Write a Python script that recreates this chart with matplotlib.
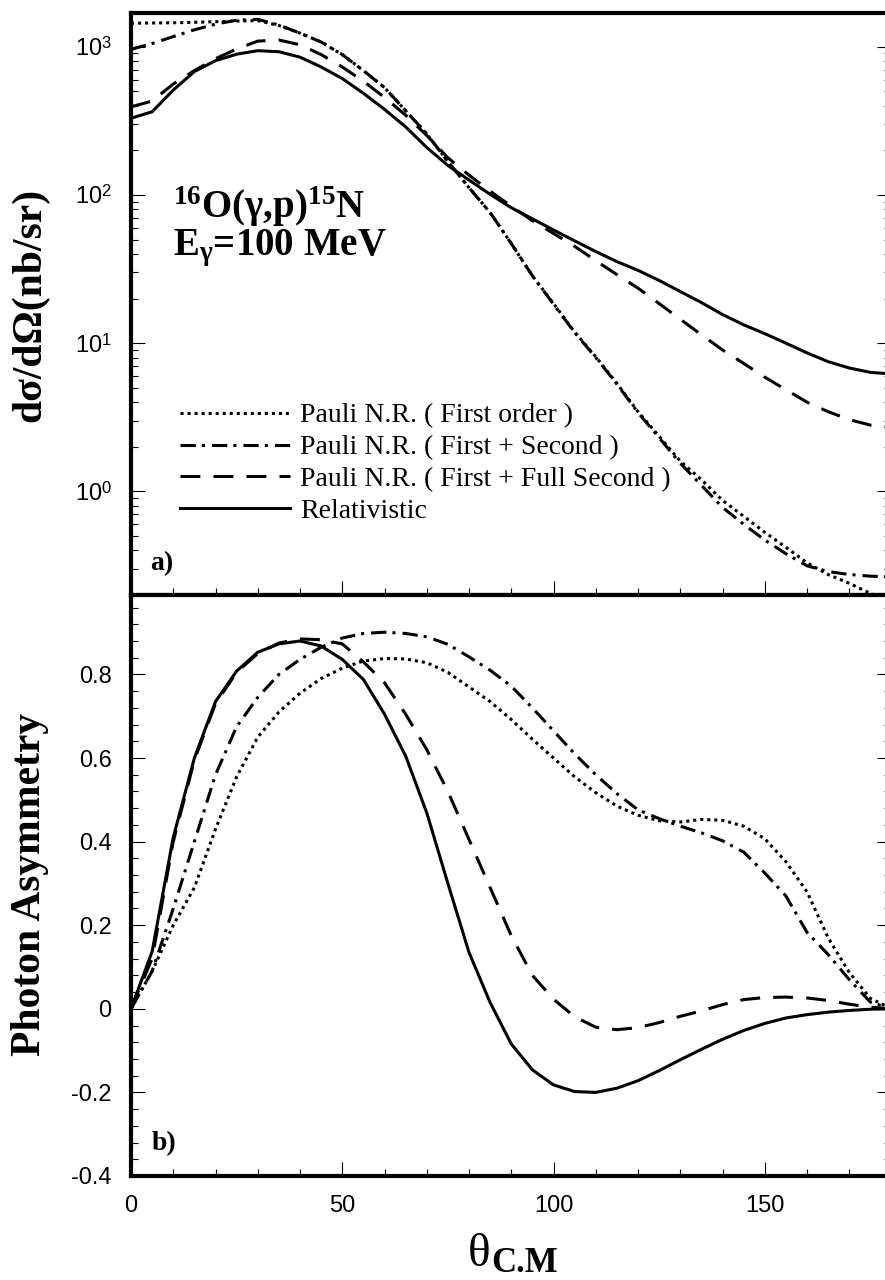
import matplotlib
matplotlib.use("Agg")
import matplotlib.pyplot as plt
from matplotlib.ticker import FixedLocator, FixedFormatter, MultipleLocator, LogLocator, NullFormatter

plt.rcParams['font.family'] = ['Liberation Sans', 'DejaVu Sans']
plt.rcParams['mathtext.fontset'] = 'custom'
plt.rcParams['mathtext.rm'] = 'Liberation Sans'
plt.rcParams['mathtext.bf'] = 'Liberation Serif:bold'
plt.rcParams['mathtext.it'] = 'Liberation Serif:italic'
plt.rcParams['axes.unicode_minus'] = False

# ---------------- data ----------------
theta = [0, 5, 10, 15, 20, 25, 30, 35, 40, 45, 50, 55, 60, 65, 70, 75, 80, 85, 90,
         95, 100, 105, 110, 115, 120, 125, 130, 135, 140, 145, 150, 155, 160, 165,
         170, 175, 180]

# cross sections (nb/sr)
xs_first = [1440, 1445, 1450, 1460, 1475, 1490, 1500, 1390, 1235, 1075, 885, 690, 530,
            370, 258, 168, 112, 76, 47, 28.5, 18.5, 11.9, 8.1, 5.35, 3.45, 2.35, 1.6,
            1.2, 0.87, 0.68, 0.53, 0.42, 0.33, 0.275, 0.24, 0.205, 0.18]
xs_second = [960, 1050, 1170, 1300, 1420, 1510, 1530, 1400, 1235, 1075, 885, 690, 530,
             370, 258, 168, 112, 76, 47, 28.5, 18.3, 11.8, 8.0, 5.3, 3.4, 2.3, 1.55,
             1.1, 0.78, 0.6, 0.47, 0.38, 0.315, 0.288, 0.275, 0.268, 0.265]
xs_full = [393, 430, 560, 690, 830, 965, 1090, 1110, 1030, 885, 730, 585, 455, 345,
           252, 178, 136, 106, 84, 67, 55, 45, 36, 29, 23.5, 18.5, 14.5, 11.4, 9.0,
           7.3, 5.9, 4.85, 4.0, 3.45, 3.05, 2.8, 2.7]
xs_rel = [329, 364, 510, 680, 805, 890, 940, 925, 850, 730, 610, 485, 378, 288, 209,
          158, 126, 101, 82, 69, 58, 49, 41.5, 35.5, 31, 26.5, 22.3, 18.8, 15.6, 13.3,
          11.6, 10.0, 8.6, 7.5, 6.8, 6.35, 6.2]

# photon asymmetry
as_first = [0, 0.09, 0.20, 0.29, 0.43, 0.555, 0.65, 0.71, 0.755, 0.79, 0.815, 0.832,
            0.838, 0.837, 0.828, 0.805, 0.77, 0.735, 0.692, 0.645, 0.60, 0.555, 0.517,
            0.485, 0.463, 0.45, 0.447, 0.453, 0.451, 0.437, 0.407, 0.352, 0.28, 0.17,
            0.087, 0.025, 0.0]
as_second = [0, 0.09, 0.24, 0.40, 0.56, 0.675, 0.745, 0.80, 0.836, 0.865, 0.887, 0.898,
             0.901, 0.898, 0.89, 0.872, 0.842, 0.81, 0.772, 0.72, 0.665, 0.61, 0.56,
             0.515, 0.476, 0.455, 0.437, 0.421, 0.402, 0.375, 0.325, 0.27, 0.183, 0.13,
             0.07, 0.016, 0.0]
as_full = [0, 0.12, 0.40, 0.595, 0.73, 0.805, 0.85, 0.875, 0.885, 0.883, 0.873, 0.83,
           0.78, 0.705, 0.62, 0.52, 0.405, 0.29, 0.175, 0.08, 0.023, -0.019, -0.044,
           -0.05, -0.045, -0.033, -0.018, -0.005, 0.01, 0.022, 0.027, 0.028, 0.026,
           0.02, 0.011, 0.004, 0.0]
as_rel = [0, 0.137, 0.41, 0.60, 0.735, 0.808, 0.853, 0.873, 0.88, 0.868, 0.836, 0.788,
          0.705, 0.605, 0.469, 0.30, 0.135, 0.015, -0.084, -0.146, -0.182, -0.198,
          -0.2, -0.19, -0.172, -0.148, -0.122, -0.097, -0.073, -0.052, -0.035, -0.022,
          -0.014, -0.008, -0.004, -0.001, 0.0]

labels = ["Pauli N.R. ( First order )",
          "Pauli N.R. ( First + Second )",
          "Pauli N.R. ( First + Full Second )",
          "Relativistic"]

xticks = [0, 50, 100, 150]
xtick_labels = ['0', '50', '100', '150']
yticks_top = [1, 10, 100, 1000]
ytick_labels_top = [r'$10^{0}$', r'$10^{1}$', r'$10^{2}$', r'$10^{3}$']
yticks_bot = [-0.4, -0.2, 0, 0.2, 0.4, 0.6, 0.8]
ytick_labels_bot = ['-0.4', '-0.2', '0', '0.2', '0.4', '0.6', '0.8']

# ---------------- figure ----------------
W, H = 885, 1280
fig = plt.figure(figsize=(W / 100, H / 100), dpi=100)

x0, x1 = 131, 891.5
ytop, ymid, ybot = 13.3, 595, 1176
ax1 = fig.add_axes([x0 / W, 1 - ymid / H, (x1 - x0) / W, (ymid - ytop) / H])
ax2 = fig.add_axes([x0 / W, 1 - ybot / H, (x1 - x0) / W, (ybot - ymid) / H])

lw = 2.2
styles = [dict(ls=(0, (1, 1.3))),
          dict(ls=(0, (5, 2, 1, 2.3))),
          dict(ls=(0, (6.5, 4.3))),
          dict(ls='-')]

top_series = [xs_first, xs_second, xs_full, xs_rel]
bot_series = [as_first, as_second, as_full, as_rel]

lines = []
for ys, st, lab in zip(top_series, styles, labels):
    ln, = ax1.plot(theta, ys, color='black', lw=lw, label=lab, **st)
    lines.append(ln)
for ys, st in zip(bot_series, styles):
    ax2.plot(theta, ys, color='black', lw=lw, **st)

ax1.set_yscale('log')
ax1.set_ylim(0.2, 1680)
ax2.set_ylim(-0.4, 0.99)
for ax in (ax1, ax2):
    ax.set_xlim(0, 180)
    for sp in ax.spines.values():
        sp.set_linewidth(3.0)
    ax.xaxis.set_major_locator(FixedLocator(xticks))
    ax.xaxis.set_minor_locator(MultipleLocator(10))
    ax.tick_params(which='both', direction='in', width=0.8, colors='black',
                   labelsize=17, pad=14)
    ax.tick_params(which='major', length=10)
    ax.tick_params(which='minor', length=5)

ax1.tick_params(which='both', top=False, right=True, bottom=True, labelbottom=False)
ax2.tick_params(which='both', top=False, right=True, bottom=True)

ax1.yaxis.set_major_locator(FixedLocator(yticks_top))
ax1.yaxis.set_major_formatter(FixedFormatter(ytick_labels_top))
ax1.yaxis.set_minor_locator(LogLocator(base=10, subs=range(2, 10)))
ax1.yaxis.set_minor_formatter(NullFormatter())

ax2.yaxis.set_major_locator(FixedLocator(yticks_bot))
ax2.yaxis.set_major_formatter(FixedFormatter(ytick_labels_bot))
ax2.yaxis.set_minor_locator(MultipleLocator(0.04))
ax2.xaxis.set_major_formatter(FixedFormatter(xtick_labels))

# legend
leg = ax1.legend(handles=lines, loc='upper left',
                 bbox_to_anchor=(180 / W, 1 - 403 / H), bbox_transform=fig.transFigure,
                 frameon=False, borderpad=0, borderaxespad=0, handlelength=3.96,
                 handletextpad=0.36, labelspacing=0.23,
                 prop={'family': 'Liberation Serif', 'size': 20})

# annotations
serif_bold = dict(fontfamily='Liberation Serif', fontweight='bold')
fig.text(173 / W, 1 - 218 / H, r"$\mathbf{{}^{16}}$O(γ,p)$\mathbf{{}^{15}}$N",
         fontsize=28, ha='left', va='baseline', **serif_bold)
fig.text(173 / W, 1 - 255 / H, r"$\mathbf{E_{γ}}$=100 MeV", fontsize=28,
         ha='left', va='baseline', **serif_bold)
fig.text(150 / W, 1 - 570 / H, "a)", fontsize=20, ha='left', va='baseline', **serif_bold)
fig.text(152 / W, 1 - 1150 / H, "b)", fontsize=20, ha='left', va='baseline', **serif_bold)

fig.text(30 / W, 1 - 305 / H, "dσ/dΩ(nb/sr)", fontsize=30, rotation=90,
         ha='center', va='center', **serif_bold)
fig.text(30 / W, 1 - 884 / H, "Photon Asymmetry", fontsize=30, rotation=90,
         ha='center', va='center', **serif_bold)
fig.text(468 / W, 1 - 1266 / H, "θ", fontsize=34, fontfamily='Liberation Serif',
         ha='left', va='baseline')
fig.text(491 / W, 1 - 1272 / H, "C.M", fontsize=25, ha='left', va='baseline',
         **serif_bold)

fig.savefig('out.png', dpi=100)
